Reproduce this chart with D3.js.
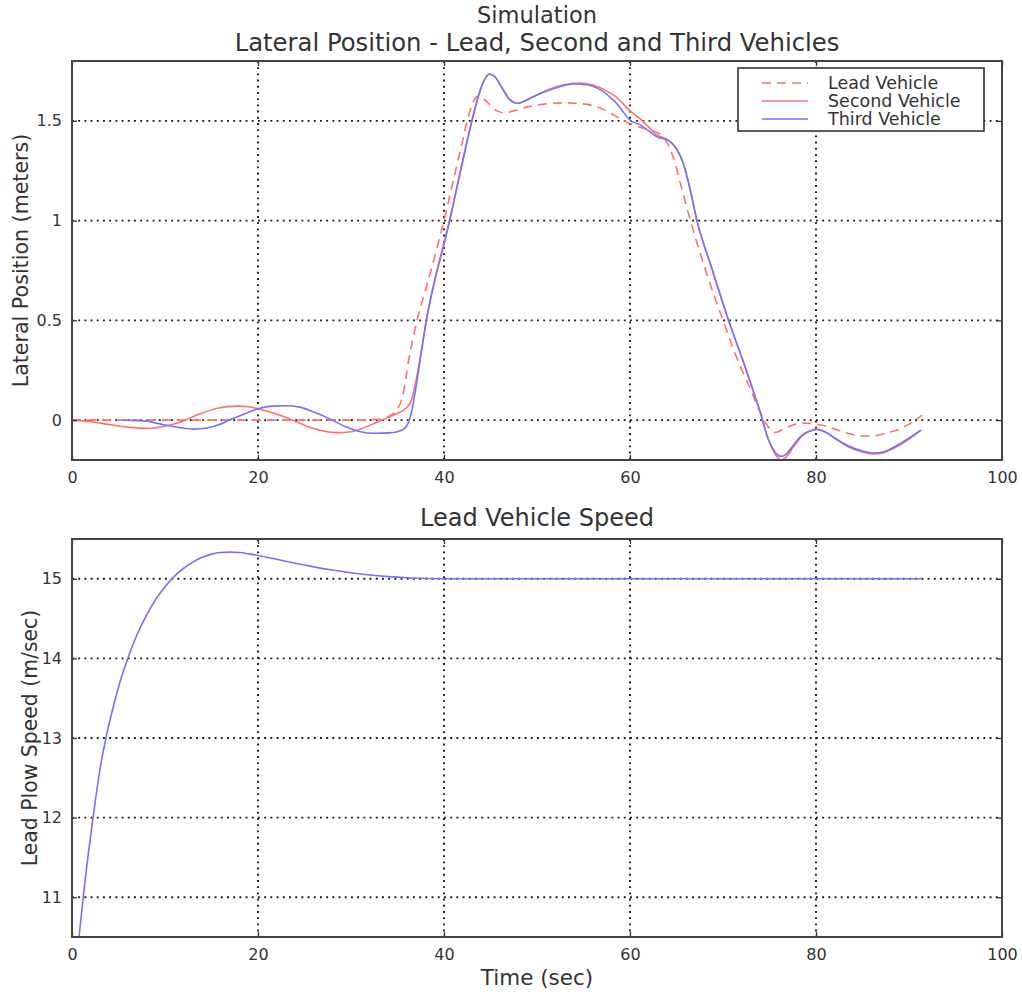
<!DOCTYPE html>
<html>
<head>
<meta charset="utf-8">
<script src="https://cdn.jsdelivr.net/npm/d3@7"></script>
<style>
  html, body { margin: 0; padding: 0; background: #fff; }
  svg { display: block; }
  text { font-family: "DejaVu Sans", sans-serif; fill: #333; }
</style>
</head>
<body>
<svg id="chart" width="1022" height="992"></svg>
<script>
// ---------------- DATA ----------------
const suptitle = "Simulation";
const topTitle = "Lateral Position - Lead, Second and Third Vehicles";
const bottomTitle = "Lead Vehicle Speed";
const topYLabel = "Lateral Position (meters)";
const bottomYLabel = "Lead Plow Speed (m/sec)";
const xLabel = "Time (sec)";
const seriesNames = ["Lead Vehicle", "Second Vehicle", "Third Vehicle"];

const xTicks = [0, 20, 40, 60, 80, 100];
const topYTicks = [0, 0.5, 1, 1.5];
const topYTickLabels = ["0", "0.5", "1", "1.5"];
const bottomYTicks = [11, 12, 13, 14, 15];

// [time (s), lateral position (m)]
const leadVehicle = [
  [0,0],[5,0],[10,0],[15,0],[20,0],[25,0],[30,0],[33,0.004],[34,0.018],[35,0.055],
  [35.6,0.13],[36.2,0.3],[37.1,0.5],[38,0.65],[39,0.82],[40,1.0],[41,1.2],[42,1.4],
  [42.5,1.5],[43.1,1.59],[43.7,1.625],[44.5,1.6],[45.7,1.55],[46.5,1.54],[47.5,1.55],
  [49,1.57],[51,1.585],[53,1.59],[55,1.585],[57,1.56],[59,1.51],[60.3,1.48],[62,1.455],
  [63.2,1.435],[64,1.39],[64.7,1.31],[65.4,1.19],[66.5,1.0],[68,0.77],[69,0.63],[70,0.5],
  [71,0.37],[72,0.255],[72.9,0.16],[74,0.04],[74.8,-0.03],[75.6,-0.062],[76.5,-0.045],
  [77.5,-0.025],[78.7,-0.015],[80,-0.02],[81,-0.03],[82,-0.045],[83,-0.06],
  [84,-0.073],[85.3,-0.08],[86.5,-0.077],[88,-0.06],[89,-0.045],[90,-0.02],[91.4,0.025]
];
const secondVehicle = [
  [0,0],[2,-0.008],[4,-0.022],[6,-0.035],[8.3,-0.042],[10,-0.03],[11.5,-0.012],[13.7,0.03],
  [15.5,0.058],[17.8,0.07],[19,0.067],[20,0.057],[22,0.03],[23.7,0],[25.5,-0.035],[27,-0.055],
  [28.5,-0.063],[30,-0.058],[31,-0.045],[32.7,-0.012],[34.8,0.03],[36,0.063],[36.5,0.1],
  [37,0.2],[37.5,0.33],[38.1,0.5],[39,0.7],[40,0.89],[40.6,1.0],[41.5,1.19],[42.3,1.36],
  [43,1.5],[43.8,1.64],[44.4,1.71],[44.9,1.735],[45.5,1.72],[46.3,1.66],[47,1.61],
  [47.9,1.588],[48.7,1.6],[50,1.63],[52,1.67],[54.5,1.69],[56,1.68],[57.5,1.65],[58.5,1.62],
  [60,1.55],[61.1,1.51],[62.9,1.43],[64.2,1.4],[65,1.36],[65.7,1.29],[66.4,1.17],[67.2,1.0],
  [68.8,0.76],[70.6,0.5],[72.5,0.25],[74,0.04],[74.9,-0.1],[75.6,-0.17],[76.2,-0.2],
  [76.8,-0.185],[77.5,-0.14],[78.5,-0.08],[79.5,-0.052],[80.1,-0.045],[81,-0.06],[82,-0.09],
  [83.5,-0.135],[85,-0.16],[86.2,-0.17],[87.2,-0.165],[88,-0.15],[89,-0.125],[90,-0.095],[91.3,-0.05]
];
const thirdVehicle = [
  [5.6,0],[8,-0.005],[10,-0.025],[11.5,-0.037],[13,-0.045],[14.5,-0.04],[16,-0.02],[16.9,0],
  [18.5,0.03],[20,0.057],[21.5,0.07],[23,0.072],[24.5,0.065],[26,0.04],[28,0],[29.5,-0.035],
  [31,-0.058],[32.5,-0.066],[34,-0.064],[35,-0.058],[35.8,-0.04],[36.2,-0.01],[36.6,0.06],
  [37,0.17],[37.5,0.32],[38.1,0.5],[39,0.7],[40,0.88],[40.6,1.0],[41.5,1.19],[42.3,1.36],
  [43,1.5],[43.8,1.64],[44.4,1.71],[44.9,1.735],[45.5,1.72],[46.3,1.66],[47,1.61],
  [47.9,1.588],[48.7,1.6],[50,1.63],[52,1.665],[54,1.685],[55.5,1.68],[57,1.65],[58.5,1.59],
  [60.1,1.5],[61.1,1.48],[62.9,1.42],[64.2,1.4],[65,1.36],[65.7,1.29],[66.4,1.17],[67.2,1.0],
  [68.8,0.76],[70.6,0.5],[72.5,0.25],[74,0.04],[74.9,-0.1],[75.6,-0.16],[76.2,-0.182],
  [76.8,-0.17],[77.5,-0.13],[78.5,-0.075],[79.5,-0.052],[80.1,-0.047],[81,-0.06],[82,-0.09],
  [83.5,-0.13],[85,-0.155],[86.2,-0.165],[87.2,-0.16],[88,-0.145],[89,-0.12],[90,-0.09],[91.3,-0.05]
];
// [time (s), speed (m/s)]
const leadSpeed = [
  [0,9.5],[0.5,10.2],[0.8,10.55],[1.3,11.1],[2.15,11.9],[3,12.6],[3.65,13.0],[4.5,13.42],
  [5.2,13.72],[6,14.0],[7,14.3],[8,14.54],[9,14.74],[10,14.9],[11,15.03],[12,15.13],
  [13,15.21],[14,15.27],[15,15.31],[16,15.33],[17,15.335],[18,15.33],[19,15.313],[20,15.293],
  [22,15.245],[24,15.195],[26,15.15],[28,15.11],[30,15.075],[32,15.047],[34,15.027],
  [36,15.013],[38,15.005],[40,15.0],[50,15.0],[60,15.0],[70,15.0],[80,15.0],[91.4,15.0]
];

// ---------------- DRAWING ----------------
const svg = d3.select("#chart");
const L = 72, R = 1002;
const topBox = {t: 61, b: 460};
const botBox = {t: 539, b: 937};

const x = d3.scaleLinear().domain([0, 100]).range([L, R]);
const yTop = d3.scaleLinear().domain([-0.2, 1.8]).range([topBox.b, topBox.t]);
const yBot = d3.scaleLinear().domain([10.5, 15.5]).range([botBox.b, botBox.t]);

const RED = "#ff6f6f", BLUE = "#7272ff";

function panel(id, y, box, yTicks, yFmt, series) {
  const g = svg.append("g");
  g.append("clipPath").attr("id", id).append("rect")
    .attr("x", L).attr("y", box.t).attr("width", R - L).attr("height", box.b - box.t);

  // grid
  const grid = g.append("g").attr("stroke", "#1a1a1a").attr("stroke-width", 1.9)
    .attr("stroke-dasharray", "1.9,4.3").attr("fill", "none");
  xTicks.filter(v => v > 0 && v < 100).forEach(v => {
    grid.append("line").attr("x1", x(v)).attr("x2", x(v)).attr("y1", box.t).attr("y2", box.b);
  });
  yTicks.forEach(v => {
    grid.append("line").attr("x1", L).attr("x2", R).attr("y1", y(v)).attr("y2", y(v));
  });

  // series
  const line = d3.line().x(d => x(d[0])).y(d => y(d[1])).curve(d3.curveMonotoneX);
  const sg = g.append("g").attr("clip-path", `url(#${id})`);
  series.forEach(s => {
    sg.append("path").datum(s.data).attr("d", line).attr("fill", "none")
      .attr("stroke", s.color).attr("stroke-width", 1.6)
      .attr("stroke-dasharray", s.dash || null);
  });

  // axes with inward ticks on all sides
  const axB = d3.axisBottom(x).tickValues(xTicks).tickSize(-5).tickPadding(12).tickFormat(d3.format("d"));
  const axT = d3.axisTop(x).tickValues(xTicks).tickSize(-5).tickFormat("");
  const axL = d3.axisLeft(y).tickValues(yTicks).tickSize(-5).tickPadding(10).tickFormat((d, i) => yFmt(d, i));
  const axR = d3.axisRight(y).tickValues(yTicks).tickSize(-5).tickFormat("");
  const style = a => {
    a.select(".domain").remove();
    a.selectAll(".tick line").attr("stroke", "#333").attr("stroke-width", 1.3);
    a.selectAll(".tick text").attr("fill", "#333").style("font-size", "16px")
      .style("font-family", '"DejaVu Sans", sans-serif');
  };
  g.append("g").attr("transform", `translate(0,${box.b})`).call(axB).call(style);
  g.append("g").attr("transform", `translate(0,${box.t})`).call(axT).call(style);
  g.append("g").attr("transform", `translate(${L},0)`).call(axL).call(style);
  g.append("g").attr("transform", `translate(${R},0)`).call(axR).call(style);

  g.append("rect").attr("x", L).attr("y", box.t).attr("width", R - L).attr("height", box.b - box.t)
    .attr("fill", "none").attr("stroke", "#444").attr("stroke-width", 2);
  return g;
}

panel("clipTop", yTop, topBox, topYTicks, (d, i) => topYTickLabels[i], [
  {data: leadVehicle, color: RED, dash: "9,6"},
  {data: secondVehicle, color: RED},
  {data: thirdVehicle, color: BLUE}
]);
panel("clipBot", yBot, botBox, bottomYTicks, d => String(d), [
  {data: leadSpeed, color: BLUE}
]);

// titles & labels
const cx = (L + R) / 2;
svg.append("text").attr("x", cx).attr("y", 23).attr("text-anchor", "middle")
  .style("font-size", "22.5px").text(suptitle);
svg.append("text").attr("x", cx).attr("y", 51).attr("text-anchor", "middle")
  .style("font-size", "24.3px").text(topTitle);
svg.append("text").attr("x", cx).attr("y", 526).attr("text-anchor", "middle")
  .style("font-size", "24px").text(bottomTitle);
svg.append("text").attr("x", cx).attr("y", 985).attr("text-anchor", "middle")
  .style("font-size", "21.5px").text(xLabel);
svg.append("text").attr("transform", `translate(28,${(topBox.t + topBox.b) / 2}) rotate(-90)`)
  .attr("text-anchor", "middle").style("font-size", "20.6px").text(topYLabel);
svg.append("text").attr("transform", `translate(37,${(botBox.t + botBox.b) / 2}) rotate(-90)`)
  .attr("text-anchor", "middle").style("font-size", "20.4px").text(bottomYLabel);

// legend
const lg = svg.append("g").attr("transform", "translate(738,68)");
lg.append("rect").attr("width", 246).attr("height", 63).attr("fill", "#fff")
  .attr("stroke", "#333").attr("stroke-width", 1.6);
const legendItems = [
  {name: seriesNames[0], color: RED, dash: "9,6"},
  {name: seriesNames[1], color: RED},
  {name: seriesNames[2], color: BLUE}
];
legendItems.forEach((it, i) => {
  const yy = 15 + i * 18;
  lg.append("line").attr("x1", 24).attr("x2", 70).attr("y1", yy).attr("y2", yy)
    .attr("stroke", it.color).attr("stroke-width", 1.6).attr("stroke-dasharray", it.dash || null);
  lg.append("text").attr("x", 90).attr("y", yy + 6).style("font-size", "17.5px").text(it.name);
});
</script>
</body>
</html>
